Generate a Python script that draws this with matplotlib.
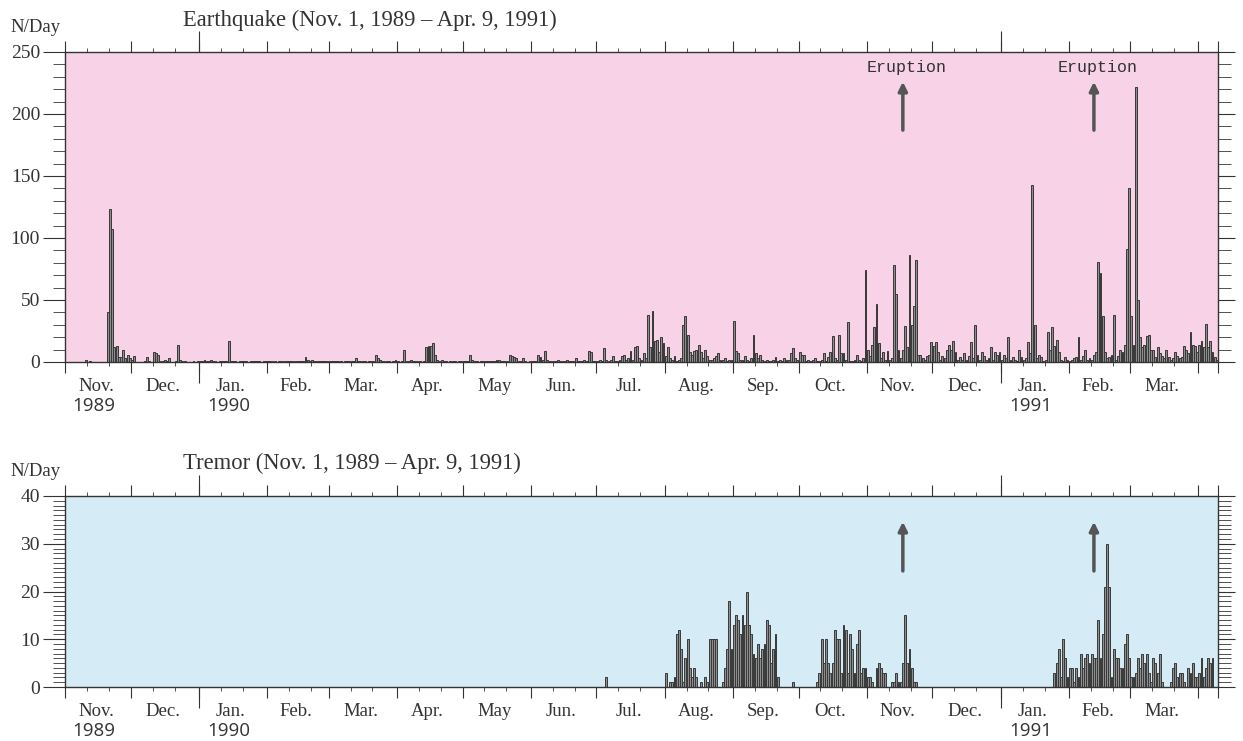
import numpy as np
import matplotlib
matplotlib.use("Agg")
import matplotlib.pyplot as plt
from matplotlib.ticker import MultipleLocator

plt.rcParams['font.family'] = ['Liberation Serif', 'DejaVu Serif']

# daily counts, one list per month, Nov. 1989 - Apr. 9, 1991
month_names = ['Nov.', 'Dec.', 'Jan.', 'Feb.', 'Mar.', 'Apr.', 'May', 'Jun.', 'Jul.',
               'Aug.', 'Sep.', 'Oct.', 'Nov.', 'Dec.', 'Jan.', 'Feb.', 'Mar.', '']
year_names = {0: '1989', 2: '1990', 14: '1991'}

quake_nov89 = [0,0,0,0,0,0,0,0,0,2, 0,1,0,0,0,0,0,0,0,40, 123,107,12,13,4,4,10,3,6,3]
quake_dec89 = [2,5,0,0,0,0,1,4,1,0, 8,7,6,1,1,2,1,3,0,0, 1,14,2,1,1,0,0,0,1,0, 1]
quake_jan90 = [1,1,2,1,1,2,1,1,0,1, 1,1,1,17,1,1,1,0,1,1, 1,1,0,1,1,1,1,1,0,1, 1]
quake_feb90 = [1,1,1,1,0,1,1,1,1,1, 1,1,1,1,1,1,1,4,2,1, 2,1,1,1,1,1,1,1]
quake_mar90 = [1,1,1,1,1,1,0,1,1,1, 1,1,3,1,1,1,1,0,1,1, 1,6,3,2,1,1,1,1,0,1, 2]
quake_apr90 = [1,0,1,10,1,1,2,1,1,1, 1,0,1,12,13,13,15,6,2,1, 2,1,1,0,1,1,1,0,1,1]
quake_may90 = [1,1,1,6,2,1,1,0,1,1, 1,1,1,1,1,2,2,1,1,1, 1,6,5,4,3,1,1,3,1,0, 1]
quake_jun90 = [1,1,1,6,4,2,9,2,1,1, 1,1,2,1,1,1,2,1,1,1, 3,1,1,1,2,1,9,8,1,1]
quake_jul90 = [1,2,1,11,2,1,2,5,1,1, 2,5,6,2,3,9,2,12,13,3, 2,7,3,38,12,41,17,18,8,20, 15]
quake_aug90 = [5,12,3,2,5,1,2,3,30,37, 22,8,6,9,10,14,8,3,10,5, 2,2,3,5,7,2,2,3,1,2, 2]
quake_sep90 = [33,9,7,2,2,5,2,1,3,22, 7,3,6,2,1,2,1,1,2,4, 1,2,1,3,2,2,7,11,3,2]
quake_oct90 = [8,6,6,1,2,1,2,3,1,1, 2,7,1,4,8,21,3,2,22,7, 7,2,32,1,1,2,6,2,1,3, 74]
quake_nov90 = [10,5,14,28,47,15,3,8,2,9, 2,3,78,55,10,3,10,29,12,86, 30,45,82,6,6,3,2,5,6,16]
quake_dec90 = [13,16,8,2,5,3,10,14,10,17, 8,2,4,2,7,2,5,16,3,30, 6,2,8,5,2,3,12,2,8,6, 8]
quake_jan91 = [2,6,3,20,2,4,2,1,10,4, 2,3,16,7,143,30,3,6,4,1, 2,24,10,28,13,18,8,2,1,4, 2]
quake_feb91 = [1,2,3,4,20,2,5,10,2,3, 2,6,8,81,72,37,8,3,4,6, 38,2,5,10,8,14,91,140]
quake_mar91 = [37,14,222,50,20,12,14,21,22,10, 10,4,12,7,5,3,10,4,2,3, 8,5,3,4,13,10,7,24,14,13, 8]
quake_apr91 = [14,17,12,31,12,17,8,4,2]

tremor_nov89 = [0] * 30
tremor_dec89 = [0] * 31
tremor_jan90 = [0] * 31
tremor_feb90 = [0] * 28
tremor_mar90 = [0] * 31
tremor_apr90 = [0] * 30
tremor_may90 = [0] * 31
tremor_jun90 = [0] * 30
tremor_jul90 = [0,0,0,0,2,0,0,0,0,0, 0,0,0,0,0,0,0,0,0,0, 0,0,0,0,0,0,0,0,0,0, 0]
tremor_aug90 = [3,0,1,1,2,11,12,8,1,6, 10,4,2,4,2,0,1,0,2,1, 10,10,10,10,0,0,1,4,8,18, 8]
tremor_sep90 = [13,15,14,11,15,13,20,13,11,7, 6,9,6,8,9,14,13,5,8,11, 2,0,0,0,0,0,0,1,0,0]
tremor_oct90 = [0,0,0,0,0,0,0,0,1,3, 10,5,10,5,3,5,12,10,10,3, 13,12,3,11,8,3,9,12,3,4, 4]
tremor_nov90 = [2,2,1,0,4,5,4,3,3,0, 0,1,1,3,1,1,5,15,5,8, 4,1,1,0,0,0,0,0,0,0]
tremor_dec90 = [0] * 31
tremor_jan91 = [0,0,0,0,0,0,0,0,0,0, 0,0,0,0,0,0,0,0,0,0, 0,0,0,0,3,5,8,2,10,6, 2]
tremor_feb91 = [4,4,1,4,2,7,4,6,7,5, 7,6,6,14,6,11,21,30,21,2, 8,6,6,4,4,9,11,6]
tremor_mar91 = [2,2,3,6,4,7,5,7,3,1, 6,5,3,7,1,0,0,0,1,4, 5,2,3,3,1,0,4,3,5,2, 2]
tremor_apr91 = [3,6,2,4,6,5,6,0,0]

quake = [quake_nov89, quake_dec89, quake_jan90, quake_feb90, quake_mar90, quake_apr90,
         quake_may90, quake_jun90, quake_jul90, quake_aug90, quake_sep90, quake_oct90,
         quake_nov90, quake_dec90, quake_jan91, quake_feb91, quake_mar91, quake_apr91]
tremor = [tremor_nov89, tremor_dec89, tremor_jan90, tremor_feb90, tremor_mar90, tremor_apr90,
          tremor_may90, tremor_jun90, tremor_jul90, tremor_aug90, tremor_sep90, tremor_oct90,
          tremor_nov90, tremor_dec90, tremor_jan91, tremor_feb91, tremor_mar91, tremor_apr91]

# eruptions: Nov. 17, 1990 and Feb. 12, 1991 (days after Nov. 1, 1989)
eruption_days = [381, 468]

lengths = [len(m) for m in quake]
month_starts = np.concatenate([[0], np.cumsum(lengths)])
ndays = month_starts[-1]
jan_starts = [month_starts[i] for i in year_names if i > 0]
ten_days = [s + k for s in month_starts[:-1] for k in (10, 20) if s + k < ndays]


def panel(ax, months, ymax, major, minor, face, arrow_y, text):
    vals = np.concatenate(months)
    days = np.arange(len(vals)) + 0.5
    ax.set_facecolor(face)
    ax.bar(days, vals, width=0.85, color='#8e8e8e', edgecolor='#383838', linewidth=0.7)
    ax.set_xlim(0, ndays)
    ax.set_ylim(0, ymax)
    for s in ax.spines.values():
        s.set_color('#333333')
        s.set_linewidth(1.0)

    ax.set_xticks(month_starts)
    ax.set_xticks(ten_days, minor=True)
    ax.tick_params(axis='x', which='major', direction='out', length=8, top=True,
                   labelbottom=False, color='#333333')
    ax.tick_params(axis='x', which='minor', direction='out', length=3, top=True,
                   color='#333333')
    for side in ('bottom', 'top'):
        sec = ax.secondary_xaxis(side)
        sec.set_xticks(jan_starts)
        sec.tick_params(length=15, labelbottom=False, labeltop=False, color='#333333')
        sec.spines[side].set_visible(False)

    ax.yaxis.set_major_locator(MultipleLocator(major))
    ax.yaxis.set_minor_locator(MultipleLocator(minor))
    ax.tick_params(axis='y', which='major', direction='out', length=16, labelsize=14,
                   color='#333333', labelcolor='#333333', pad=2)
    ax.tick_params(axis='y', which='minor', direction='out', length=9, color='#333333')
    secy = ax.secondary_yaxis('right')
    secy.yaxis.set_major_locator(MultipleLocator(major))
    secy.yaxis.set_minor_locator(MultipleLocator(minor))
    secy.tick_params(which='major', length=12, labelright=False, color='#333333')
    secy.tick_params(which='minor', length=9, color='#333333')
    secy.spines['right'].set_visible(False)

    for i, name in enumerate(month_names):
        xc = (month_starts[i] + month_starts[i + 1]) / 2
        ax.annotate(name, xy=(xc, 0), xycoords=('data', 'axes fraction'),
                    xytext=(-2, -25), textcoords='offset pixels',
                    ha='center', va='center', fontsize=13.5, color='#333333')
        if i in year_names:
            ax.annotate(year_names[i], xy=(xc, 0), xycoords=('data', 'axes fraction'),
                        xytext=(-4, -44), textcoords='offset pixels', ha='center',
                        va='center', fontsize=13.5, color='#333333', family='Open Sans')

    for d in eruption_days:
        ax.annotate('', xy=(d + 0.5, arrow_y[1]), xytext=(d + 0.5, arrow_y[0]),
                    arrowprops=dict(arrowstyle='-|>', lw=2.5, color='#555555',
                                    mutation_scale=13, shrinkA=0, shrinkB=0))
        if text:
            ax.annotate('Eruption', xy=(d + 0.5, arrow_y[1]), xytext=(4, 14),
                        textcoords='offset pixels', ha='center', va='center',
                        fontsize=12, family='Liberation Mono', color='#333333')


fig = plt.figure(figsize=(12.43, 7.41), dpi=100)
ax1 = fig.add_axes([65 / 1243, 1 - 362 / 741, 1153 / 1243, 310 / 741])
ax2 = fig.add_axes([65 / 1243, 1 - 687 / 741, 1153 / 1243, 191 / 741])

panel(ax1, quake, 250, 50, 10, '#f8d3e7', (187, 226), True)
panel(ax2, tremor, 40, 10, 1, '#d5ebf5', (24.3, 34.6), False)

fig.text(10 / 1243, 1 - 28 / 741, 'N/Day', fontsize=13.5, va='center', color='#333333')
fig.text(183 / 1243, 1 - 20 / 741, 'Earthquake (Nov. 1, 1989 \u2013 Apr. 9, 1991)',
         fontsize=16.3, va='center', color='#333333')
fig.text(10 / 1243, 1 - 472 / 741, 'N/Day', fontsize=13.5, va='center', color='#333333')
fig.text(183 / 1243, 1 - 463 / 741, 'Tremor (Nov. 1, 1989 \u2013 Apr. 9, 1991)',
         fontsize=16.3, va='center', color='#333333')

fig.savefig('out.png', dpi=100)
